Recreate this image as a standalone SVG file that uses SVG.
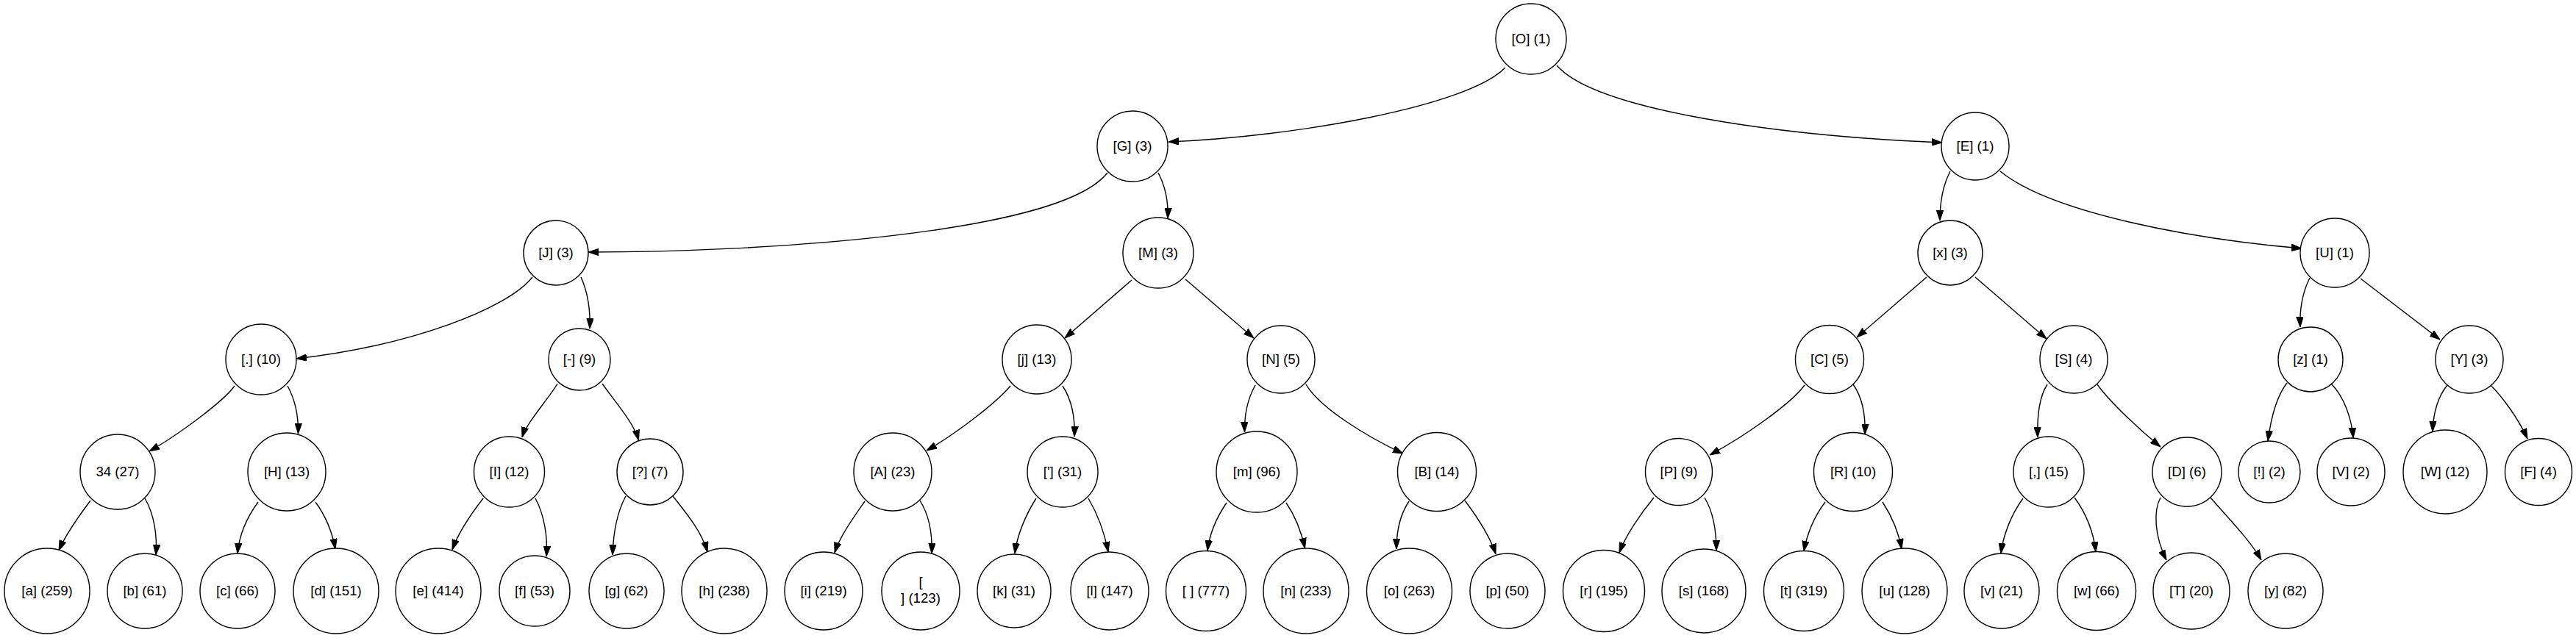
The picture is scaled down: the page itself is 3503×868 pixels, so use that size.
<svg xmlns="http://www.w3.org/2000/svg" width="3503" height="868" viewBox="0 0 3503 868">
<style>
.n circle{fill:#fff;stroke:#000;stroke-width:1.4}
.n text{font-family:"Liberation Sans",Arial,sans-serif;font-size:18.67px;text-anchor:middle;fill:#000}
.e path{fill:none;stroke:#000;stroke-width:1.4;marker-end:url(#ah)}
</style>
<defs>
<marker id="ah" markerUnits="userSpaceOnUse" markerWidth="14" markerHeight="10" refX="14" refY="5" orient="auto" viewBox="0 0 14 10">
<path d="M0,0.3 L14,5 L0,9.7 z" fill="#000" stroke="#000" stroke-width="1"/>
</marker>
</defs>
<rect width="3503" height="868" fill="#fff"/>
<g id="edges" class="e">
<path d="M2047,92 C1995,145 1760,186 1589,193"/>
<path d="M2117,89 C2170,150 2420,185 2641,194"/>
<path d="M1506,235 C1440,320 1020,343 800,343"/>
<path d="M1575,235 C1584,252 1589,272 1588,297"/>
<path d="M2652,233 C2643,250 2638,272 2638,300"/>
<path d="M2720,233 C2790,290 2980,325 3130,338"/>
<path d="M724,377 C690,420 560,470 403,488"/>
<path d="M790,377 C799,397 803,420 802,447"/>
<path d="M1539,381 L1448,460"/>
<path d="M1612,380 L1705,460"/>
<path d="M2620,377 L2525,459"/>
<path d="M2686,377 L2783,461"/>
<path d="M3141,378 C3131,398 3127,420 3128,445"/>
<path d="M3210,379 L3318,462"/>
<path d="M319,525 C305,545 245,590 203,614"/>
<path d="M391,525 C402,545 406,565 405.5,590"/>
<path d="M758,522 C748,540 716,575 710,595"/>
<path d="M819,522 C835,545 862,575 868.5,599"/>
<path d="M1374,525 C1355,548 1300,590 1260,613"/>
<path d="M1445,525 C1458,545 1462,570 1461,594"/>
<path d="M1707,524 C1697,542 1692,565 1692.5,588"/>
<path d="M1776,523 C1795,555 1860,595 1908,617"/>
<path d="M2454,524 C2435,550 2370,595 2325,619"/>
<path d="M2520,523 C2532,540 2537,565 2536,591"/>
<path d="M2784,523 C2773,540 2770,565 2771,595"/>
<path d="M2852,523 C2870,548 2910,585 2938,608"/>
<path d="M3110,521 C3095,540 3088,570 3084,600"/>
<path d="M3170,522 C3188,540 3198,570 3200,596"/>
<path d="M3328,524 C3315,540 3309,560 3308,587"/>
<path d="M3386,523 C3403,540 3425,570 3437,597"/>
<path d="M123,681 C105,705 88,730 80,749"/>
<path d="M197,678 C210,700 214,730 212,755"/>
<path d="M351,683 C335,705 325,730 323,753"/>
<path d="M429,683 C445,705 452,725 456,747"/>
<path d="M657,678 C640,700 622,728 615,748"/>
<path d="M728,678 C740,700 745,730 743,757"/>
<path d="M851,675 C840,695 834,725 833,755"/>
<path d="M915,675 C935,700 955,725 962,751"/>
<path d="M1176,682 C1160,705 1142,730 1135,752"/>
<path d="M1251,681 C1263,700 1268,725 1267,753"/>
<path d="M1409,678 C1395,700 1383,728 1380,753"/>
<path d="M1480,678 C1493,700 1502,725 1507,751"/>
<path d="M1668,684 C1655,703 1645,725 1642,749"/>
<path d="M1749,684 C1762,703 1770,725 1774.5,746"/>
<path d="M1916,682 C1904,700 1899,722 1899,747"/>
<path d="M1992,681 C2010,705 2027,732 2034,754"/>
<path d="M2249,677 C2230,700 2210,730 2202,752"/>
<path d="M2318,677 C2330,697 2334,722 2334,749"/>
<path d="M2482,683 C2467,703 2457,728 2453,750"/>
<path d="M2560,683 C2573,703 2582,725 2586,747"/>
<path d="M2751,678 C2735,700 2724,728 2721,753"/>
<path d="M2821,677 C2838,700 2847,725 2850,751"/>
<path d="M2938,677 C2928,695 2930,730 2946,762"/>
<path d="M3006,677 C3030,705 3060,735 3075,762"/>
</g>
<g id="n_O" class="n"><circle cx="2082" cy="53" r="48"/><text x="2082" y="59">[O] (1)</text></g>
<g id="n_G" class="n"><circle cx="1540" cy="199" r="48"/><text x="1540" y="205">[G] (3)</text></g>
<g id="n_E" class="n"><circle cx="2686" cy="199" r="46"/><text x="2686" y="205">[E] (1)</text></g>
<g id="n_J" class="n"><circle cx="756" cy="344" r="44"/><text x="756" y="350">[J] (3)</text></g>
<g id="n_M" class="n"><circle cx="1575" cy="344" r="48"/><text x="1575" y="350">[M] (3)</text></g>
<g id="n_x" class="n"><circle cx="2652" cy="344" r="44"/><text x="2652" y="350">[x] (3)</text></g>
<g id="n_U" class="n"><circle cx="3175" cy="344" r="47"/><text x="3175" y="350">[U] (1)</text></g>
<g id="n_dot" class="n"><circle cx="355" cy="489" r="48"/><text x="355" y="495">[.] (10)</text></g>
<g id="n_dash" class="n"><circle cx="788" cy="489" r="42"/><text x="788" y="495">[-] (9)</text></g>
<g id="n_j" class="n"><circle cx="1410" cy="489" r="47"/><text x="1410" y="495">[j] (13)</text></g>
<g id="n_N" class="n"><circle cx="1742" cy="489" r="46"/><text x="1742" y="495">[N] (5)</text></g>
<g id="n_C" class="n"><circle cx="2488" cy="489" r="46.5"/><text x="2488" y="495">[C] (5)</text></g>
<g id="n_S" class="n"><circle cx="2820" cy="489" r="46"/><text x="2820" y="495">[S] (4)</text></g>
<g id="n_z" class="n"><circle cx="3142" cy="489" r="44"/><text x="3142" y="495">[z] (1)</text></g>
<g id="n_Y" class="n"><circle cx="3358" cy="489" r="46"/><text x="3358" y="495">[Y] (3)</text></g>
<g id="n_34" class="n"><circle cx="160" cy="642" r="51"/><text x="160" y="648">34 (27)</text></g>
<g id="n_H" class="n"><circle cx="390" cy="642" r="53"/><text x="390" y="648">[H] (13)</text></g>
<g id="n_I" class="n"><circle cx="692.5" cy="642" r="48"/><text x="692.5" y="648">[I] (12)</text></g>
<g id="n_Q" class="n"><circle cx="884" cy="642" r="45"/><text x="884" y="648">[?] (7)</text></g>
<g id="n_A" class="n"><circle cx="1214" cy="642" r="53"/><text x="1214" y="648">[A] (23)</text></g>
<g id="n_apos" class="n"><circle cx="1445" cy="642" r="48"/><text x="1445" y="648">['] (31)</text></g>
<g id="n_m" class="n"><circle cx="1709" cy="642" r="55"/><text x="1709" y="648">[m] (96)</text></g>
<g id="n_B" class="n"><circle cx="1954" cy="642" r="53.5"/><text x="1954" y="648">[B] (14)</text></g>
<g id="n_P" class="n"><circle cx="2283" cy="642" r="45.5"/><text x="2283" y="648">[P] (9)</text></g>
<g id="n_R" class="n"><circle cx="2520" cy="642" r="53.5"/><text x="2520" y="648">[R] (10)</text></g>
<g id="n_comma" class="n"><circle cx="2786" cy="642" r="48"/><text x="2786" y="648">[,] (15)</text></g>
<g id="n_D" class="n"><circle cx="2974" cy="642" r="47"/><text x="2974" y="648">[D] (6)</text></g>
<g id="n_excl" class="n"><circle cx="3086" cy="642" r="42"/><text x="3086" y="648">[!] (2)</text></g>
<g id="n_V" class="n"><circle cx="3197" cy="642" r="46"/><text x="3197" y="648">[V] (2)</text></g>
<g id="n_W" class="n"><circle cx="3325" cy="642" r="57"/><text x="3325" y="648">[W] (12)</text></g>
<g id="n_F" class="n"><circle cx="3452" cy="642" r="45.5"/><text x="3452" y="648">[F] (4)</text></g>
<g id="n_a" class="n"><circle cx="64" cy="804" r="58"/><text x="64" y="810">[a] (259)</text></g>
<g id="n_b" class="n"><circle cx="197" cy="804" r="51"/><text x="197" y="810">[b] (61)</text></g>
<g id="n_c" class="n"><circle cx="323" cy="804" r="51"/><text x="323" y="810">[c] (66)</text></g>
<g id="n_d" class="n"><circle cx="457" cy="804" r="58"/><text x="457" y="810">[d] (151)</text></g>
<g id="n_e" class="n"><circle cx="596" cy="804" r="58"/><text x="596" y="810">[e] (414)</text></g>
<g id="n_f" class="n"><circle cx="727" cy="804" r="48"/><text x="727" y="810">[f] (53)</text></g>
<g id="n_g" class="n"><circle cx="852" cy="804" r="51"/><text x="852" y="810">[g] (62)</text></g>
<g id="n_h" class="n"><circle cx="985" cy="804" r="58"/><text x="985" y="810">[h] (238)</text></g>
<g id="n_i" class="n"><circle cx="1120" cy="804" r="53"/><text x="1120" y="810">[i] (219)</text></g>
<g id="n_nl" class="n"><circle cx="1252" cy="804" r="53"/><text x="1252" y="798">[</text><text x="1252" y="820">] (123)</text></g>
<g id="n_k" class="n"><circle cx="1379" cy="804" r="50"/><text x="1379" y="810">[k] (31)</text></g>
<g id="n_l" class="n"><circle cx="1509" cy="804" r="53"/><text x="1509" y="810">[l] (147)</text></g>
<g id="n_sp" class="n"><circle cx="1640" cy="804" r="54.5"/><text x="1640" y="810">[ ] (777)</text></g>
<g id="n_n" class="n"><circle cx="1776" cy="804" r="58"/><text x="1776" y="810">[n] (233)</text></g>
<g id="n_o" class="n"><circle cx="1916.5" cy="804" r="58"/><text x="1916.5" y="810">[o] (263)</text></g>
<g id="n_p" class="n"><circle cx="2050" cy="804" r="51"/><text x="2050" y="810">[p] (50)</text></g>
<g id="n_r" class="n"><circle cx="2181" cy="804" r="55.5"/><text x="2181" y="810">[r] (195)</text></g>
<g id="n_s" class="n"><circle cx="2317" cy="804" r="57"/><text x="2317" y="810">[s] (168)</text></g>
<g id="n_t" class="n"><circle cx="2453" cy="804" r="54.5"/><text x="2453" y="810">[t] (319)</text></g>
<g id="n_u" class="n"><circle cx="2590" cy="804" r="58"/><text x="2590" y="810">[u] (128)</text></g>
<g id="n_v" class="n"><circle cx="2722" cy="804" r="51"/><text x="2722" y="810">[v] (21)</text></g>
<g id="n_w" class="n"><circle cx="2851" cy="804" r="53.5"/><text x="2851" y="810">[w] (66)</text></g>
<g id="n_T" class="n"><circle cx="2980" cy="804" r="52"/><text x="2980" y="810">[T] (20)</text></g>
<g id="n_y" class="n"><circle cx="3108" cy="804" r="51"/><text x="3108" y="810">[y] (82)</text></g>
</svg>
